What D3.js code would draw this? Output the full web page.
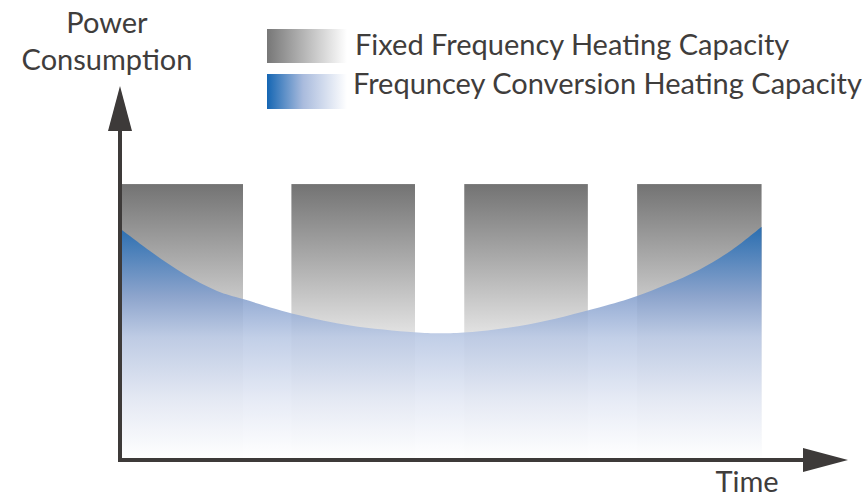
<!DOCTYPE html>
<html>
<head>
<meta charset="utf-8">
<script src="https://cdn.jsdelivr.net/npm/d3@7"></script>
<style>
  html, body { margin: 0; padding: 0; background: #fff; }
  svg { display: block; }
  text { font-family: Lato, "Open Sans", sans-serif; fill: #3f3d3c; }
</style>
</head>
<body>
<svg id="chart" width="867" height="499"></svg>
<script>
// fixed frequency: on/off cycles (time units), constant power level
const fixedStart = [0, 9.8, 19.8, 29.8];
const fixedEnd = [7, 16.95, 26.95, 37];
const fixedPower = [81, 81, 81, 81];

// frequency conversion: continuous curve
const convTime = [0, 1.7, 3.6, 5.5, 7, 10.2, 13.2, 16.9, 18.4, 20, 23.5, 27.6, 29.8, 31.5, 33.4, 35.3, 37];
const convPower = [67.4, 60.9, 54.4, 49.4, 47.0, 42.3, 39.2, 37.2, 36.9, 37.2, 39.5, 44.5, 47.9, 51.3, 55.7, 61.6, 68.4];

const legendLabels = ["Fixed Frequency Heating Capacity", "Frequncey Conversion Heating Capacity"];
const yLabel = ["Power", "Consumption"];
const xLabel = "Time";

const svg = d3.select("#chart");
const x = d3.scaleLinear().domain([0, 42]).range([122, 848]);
const y = d3.scaleLinear().domain([0, 110]).range([458, 86]);

const defs = svg.append("defs");

// gradients
const gGray = defs.append("linearGradient").attr("id", "grayV")
    .attr("gradientUnits", "userSpaceOnUse")
    .attr("x1", 0).attr("x2", 0).attr("y1", y(81)).attr("y2", y(0));
[[0, "#737373"], [0.55, "#e3e3e3"], [1, "#fbfbfb"]].forEach(s =>
    gGray.append("stop").attr("offset", s[0]).attr("stop-color", s[1]));

const gBlue = defs.append("linearGradient").attr("id", "blueV")
    .attr("gradientUnits", "userSpaceOnUse")
    .attr("x1", 0).attr("x2", 0).attr("y1", y(68.4)).attr("y2", y(0));
[[0, "#1a68b4"], [0.3, "#849fcd"], [0.48, "#b9c8e4"], [0.75, "#e3e8f4"], [1, "#ffffff"]].forEach(s =>
    gBlue.append("stop").attr("offset", s[0]).attr("stop-color", s[1]));

const lgGray = defs.append("linearGradient").attr("id", "grayH");
[[0, "#777777"], [1, "#ffffff"]].forEach(s =>
    lgGray.append("stop").attr("offset", s[0]).attr("stop-color", s[1]));
const lgBlue = defs.append("linearGradient").attr("id", "blueH");
[[0, "#1566b3"], [0.45, "#a9bbdd"], [1, "#ffffff"]].forEach(s =>
    lgBlue.append("stop").attr("offset", s[0]).attr("stop-color", s[1]));

// fixed frequency bars
const bars = fixedStart.map((s, i) => ({ s, e: fixedEnd[i], p: fixedPower[i] }));
svg.append("g").selectAll("rect").data(bars).join("rect")
    .attr("x", d => x(d.s))
    .attr("y", d => y(d.p))
    .attr("width", d => x(d.e) - x(d.s))
    .attr("height", d => y(0) - y(d.p))
    .attr("fill", "url(#grayV)");

// frequency conversion area
const conv = convTime.map((t, i) => ({ t, p: convPower[i] }));
const area = d3.area()
    .x(d => x(d.t))
    .y0(y(0))
    .y1(d => y(d.p))
    .curve(d3.curveCatmullRom.alpha(0.5));
svg.append("path").datum(conv)
    .attr("d", area)
    .attr("fill", "url(#blueV)")
    .attr("fill-opacity", 0.87);

// axes with arrow heads
const axisColor = "#3d3a39";
const ax = x(0) - 2, ay = y(0) + 2;
svg.append("line").attr("x1", ax).attr("x2", ax).attr("y1", ay + 2).attr("y2", y(110) + 40)
    .attr("stroke", axisColor).attr("stroke-width", 4);
svg.append("path")
    .attr("d", `M${ax},${y(110)} L${ax - 12},${y(110) + 45} L${ax + 12},${y(110) + 45} Z`)
    .attr("fill", axisColor);
svg.append("line").attr("x1", ax - 2).attr("x2", x(42) - 40).attr("y1", ay).attr("y2", ay)
    .attr("stroke", axisColor).attr("stroke-width", 4);
svg.append("path")
    .attr("d", `M${x(42)},${ay} L${x(42) - 45},${ay - 12} L${x(42) - 45},${ay + 12} Z`)
    .attr("fill", axisColor);

// text size fitted to the long legend line
const probe = svg.append("text").attr("font-size", 100).text(legendLabels[1]);
const fs = 100 * 509 / probe.node().getComputedTextLength();
probe.remove();

// legend
const legend = svg.append("g");
legend.append("rect").attr("x", 267).attr("y", 29).attr("width", 80).attr("height", 34).attr("fill", "url(#grayH)");
legend.append("rect").attr("x", 267).attr("y", 74).attr("width", 80).attr("height", 35).attr("fill", "url(#blueH)");
legend.selectAll("text").data(legendLabels).join("text")
    .attr("x", (d, i) => i === 0 ? 355 : 353)
    .attr("y", (d, i) => 55 + i * 39)
    .attr("font-size", fs)
    .text(d => d);

// axis labels
svg.selectAll("text.ylab").data(yLabel).join("text")
    .attr("class", "ylab")
    .attr("x", 107).attr("y", (d, i) => 33 + i * 37)
    .attr("text-anchor", "middle")
    .attr("font-size", fs)
    .text(d => d);
svg.append("text").attr("x", 747).attr("y", 492)
    .attr("text-anchor", "middle").attr("font-size", fs).text(xLabel);
</script>
</body>
</html>
